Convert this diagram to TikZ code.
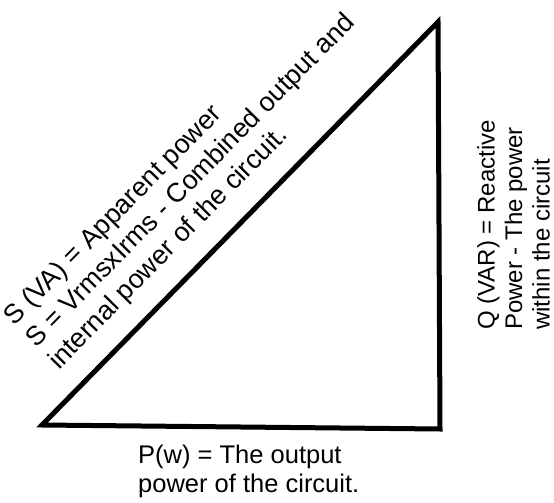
\documentclass[tikz,border=0pt]{standalone}
\usepackage{fontspec}
\setmainfont{Liberation Sans}
\usepackage{tikz}

\begin{document}
\begin{tikzpicture}[x=1pt, y=-1pt,
  side/.style={line width=5pt, line join=miter},
  lbl/.style={inner sep=0pt, align=left}]
\useasboundingbox (0,0) rectangle (554,503);
% corners
\coordinate (a) at (42,425);
\coordinate (b) at (438,22);
\coordinate (c) at (440,429);
% triangle
\draw[side] (a) -- (b) -- (c) -- cycle;
% hypotenuse
\node[lbl, anchor=south west, rotate=45.5, font=\fontsize{26.8}{31}\selectfont] (s) at (63,374.5)
  {S (VA) = Apparent power\\S = VrmsxIrms - Combined output and\\internal power of the circuit.};
% base
\node[lbl, anchor=north west, font=\fontsize{25.5}{28.5}\selectfont] (p) at (138,445)
  {P(w) = The output\\power of the circuit.};
% vertical side
\node[lbl, anchor=south west, rotate=90, font=\fontsize{24}{27.5}\selectfont] (q) at (550,330)
  {Q (VAR) = Reactive\\Power - The power\\within the circuit};
\end{tikzpicture}
\end{document}
